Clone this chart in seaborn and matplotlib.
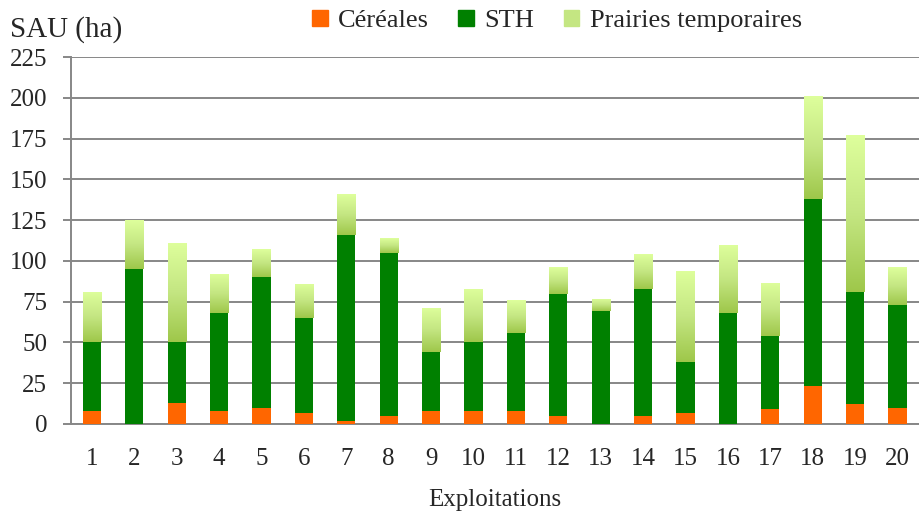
# Stacked bars of SAU per farm (cereals / STH / temporary grassland)

import numpy as np
import pandas as pd
import matplotlib
matplotlib.use("Agg")
import matplotlib.pyplot as plt
import seaborn as sns
from matplotlib.patches import Patch
from matplotlib.colors import LinearSegmentedColormap

# Data
exploitations = [str(i) for i in range(1, 21)]
cereales = [8, 0, 13, 8, 10, 7, 2, 5, 8, 8, 8, 5, 0, 5, 7, 0, 9, 23, 12, 10]
sth = [42, 95, 37, 60, 80, 58, 114, 100, 36, 42, 48, 75, 69, 78, 31, 68, 45, 115, 69, 63]
prairies = [31, 30, 61, 24, 17, 21, 25, 9, 27, 33, 20, 16, 7.5, 21, 56, 42, 32.5, 63, 96, 23]
yticks = [0, 25, 50, 75, 100, 125, 150, 175, 200, 225]

df = pd.DataFrame({"Exploitation": exploitations, "Céréales": cereales,
                   "STH": sth, "Prairies temporaires": prairies})
df["cum_sth"] = df["Céréales"] + df["STH"]
df["total"] = df["cum_sth"] + df["Prairies temporaires"]

sns.set_style("white")
plt.rcParams["font.family"] = ["Liberation Serif", "DejaVu Serif"]

fig = plt.figure(figsize=(9.19, 5.16), dpi=100)
ax = fig.add_axes([70.7 / 919, 92 / 516, 848 / 919, 367 / 516])

orange = "#FF6600"
green = "#008000"
bw = 0.43

# stacked bars: draw cumulative totals from back to front
sns.barplot(data=df, x="Exploitation", y="total", color="#C8E88A", width=bw,
            saturation=1, ax=ax, zorder=2, linewidth=0)
n_pt = len(ax.patches)
sns.barplot(data=df, x="Exploitation", y="cum_sth", color=green, width=bw,
            saturation=1, ax=ax, zorder=3, linewidth=0)
sns.barplot(data=df, x="Exploitation", y="Céréales", color=orange, width=bw,
            saturation=1, ax=ax, zorder=4, linewidth=0)

# gradient fill for the temporary grassland segment
cmap = LinearSegmentedColormap.from_list("pt", ["#9EC74A", "#C4E682", "#DEFF9C"])
grad = np.linspace(0, 1, 256).reshape(-1, 1)
for p, lo, hi in zip(ax.patches[:n_pt], df["cum_sth"], df["total"]):
    p.set_facecolor("none")
    x0 = p.get_x()
    im = ax.imshow(grad, cmap=cmap, origin="lower", aspect="auto",
                   extent=[x0, x0 + p.get_width(), lo, hi], zorder=2.5)
    im.set_clip_path(p)

ax.set_xlim(-0.5, len(exploitations) - 0.5)
ax.set_ylim(0, 225)
ax.set_yticks(yticks)
ax.yaxis.grid(True, color="#878787", linewidth=1.4, zorder=0)
ax.set_axisbelow(True)

for s in ["top", "right"]:
    ax.spines[s].set_visible(False)
for s in ["left", "bottom"]:
    ax.spines[s].set_color("#878787")
    ax.spines[s].set_linewidth(1.4)

ax.set_xticks(np.arange(-0.5, len(exploitations)), minor=True)
ax.tick_params(axis="x", which="major", length=0, pad=17, labelsize=18)
ax.tick_params(axis="x", which="minor", length=5.5, width=1.4, color="#878787")
ax.tick_params(axis="y", length=6, width=1.4, color="#878787", pad=11, labelsize=18,
               left=True)
ax.set_ylabel("")
ax.set_xlabel("Exploitations", fontsize=18, labelpad=14)

fig.text(10 / 919, 1 - 30 / 516, "SAU (ha)", fontsize=21, va="center", ha="left")

handles = [Patch(color=orange, label="Céréales"),
           Patch(color=green, label="STH"),
           Patch(color="#C4E682", label="Prairies temporaires")]
fig.legend(handles=handles, loc="center", bbox_to_anchor=(557 / 919, 1 - 21 / 516),
           ncol=3, frameon=False, fontsize=19, handlelength=0.6, handleheight=0.6,
           handletextpad=0.4, columnspacing=1.1, borderpad=0)

fig.savefig("out.png", dpi=100)
